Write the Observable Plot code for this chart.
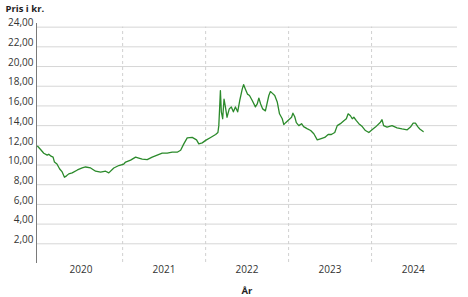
<!DOCTYPE html>
<html>
<head>
<meta charset="utf-8">
<script src="https://cdn.jsdelivr.net/npm/d3@7"></script>
<script src="https://cdn.jsdelivr.net/npm/@observablehq/plot@0.6"></script>
<style>
  html, body { margin: 0; padding: 0; background: #fff; }
  #chart { width: 468px; height: 297px; }
</style>
</head>
<body>
<div id="chart"></div>
<script>
const dates = [
  "2019-12-24","2020-01-05","2020-01-20","2020-02-04","2020-02-11","2020-02-21","2020-03-01","2020-03-07",
  "2020-03-18","2020-03-30","2020-04-10","2020-04-20","2020-04-29","2020-05-09","2020-05-24","2020-06-16",
  "2020-07-07","2020-07-22","2020-08-13","2020-09-04","2020-09-26","2020-10-18","2020-11-01","2020-11-23",
  "2020-12-15","2021-01-06","2021-01-14","2021-02-05","2021-02-27","2021-03-13","2021-03-28","2021-04-19",
  "2021-05-11","2021-06-02","2021-06-24","2021-07-16","2021-08-07","2021-08-29","2021-09-13","2021-09-27",
  "2021-10-12","2021-11-03","2021-11-22","2021-12-02","2021-12-17","2022-01-01","2022-01-23","2022-02-14",
  "2022-02-24","2022-02-28","2022-03-04","2022-03-07","2022-03-11","2022-03-17","2022-03-23","2022-03-29",
  "2022-04-05","2022-04-15","2022-04-24","2022-05-03","2022-05-12","2022-05-22","2022-05-31","2022-06-11",
  "2022-06-17","2022-06-25","2022-07-04","2022-07-13","2022-07-25","2022-08-08","2022-08-16","2022-08-23",
  "2022-08-31","2022-09-09","2022-09-21","2022-10-06","2022-10-13","2022-10-21","2022-11-01","2022-11-12",
  "2022-11-22","2022-12-04","2022-12-11","2022-12-19","2023-01-02","2023-01-14","2023-01-20","2023-01-28",
  "2023-02-04","2023-02-15","2023-02-27","2023-03-08","2023-03-23","2023-04-08","2023-04-22","2023-05-07",
  "2023-05-21","2023-06-09","2023-06-24","2023-07-08","2023-07-23","2023-08-03","2023-08-17","2023-09-01",
  "2023-09-12","2023-09-20","2023-09-30","2023-10-08","2023-10-15","2023-10-26","2023-11-06","2023-11-21",
  "2023-12-05","2023-12-20","2024-01-03","2024-01-18","2024-02-09","2024-02-16","2024-02-23","2024-03-09",
  "2024-03-31","2024-04-22","2024-05-14","2024-06-06","2024-06-20","2024-07-02","2024-07-12","2024-07-22",
  "2024-07-31","2024-08-15"
];
const prices = [
  11.9,11.6,11.2,11.0,11.1,10.9,10.8,10.3,
  10.1,9.6,9.3,8.76,8.9,9.1,9.2,9.5,
  9.7,9.8,9.7,9.37,9.27,9.37,9.2,9.7,
  9.95,10.1,10.3,10.5,10.8,10.7,10.6,10.55,
  10.8,11.0,11.2,11.2,11.3,11.3,11.5,12.15,
  12.76,12.8,12.56,12.15,12.25,12.5,12.8,13.1,
  13.3,14.0,16.0,17.56,15.4,14.7,16.7,15.9,
  14.85,15.7,15.9,15.4,15.9,15.4,16.55,17.7,
  18.17,17.7,17.2,17.06,16.55,15.9,16.2,16.8,
  16.2,15.7,15.5,17.06,17.46,17.3,17.06,16.4,
  15.2,14.7,14.1,14.3,14.6,14.85,15.26,14.9,
  14.3,14.0,14.2,13.9,13.7,13.5,13.17,12.56,
  12.66,12.8,13.1,13.1,13.3,14.0,14.2,14.5,
  14.7,15.2,15.0,14.7,14.85,14.5,14.2,13.9,
  13.5,13.3,13.57,13.85,14.35,14.6,14.0,13.85,
  14.0,13.77,13.66,13.57,13.85,14.25,14.25,13.9,
  13.66,13.4
];
const yTicks = [2,4,6,8,10,12,14,16,18,20,22,24];
const yearStarts = ["2021-01-01","2022-01-01","2023-01-01","2024-01-01"];
const yearLabels = ["2020","2021","2022","2023","2024"];
const xDomain = ["2019-12-19","2025-01-13"];
const yDomain = [0, 24.37];

const data = dates.map((d, i) => ({date: new Date(d + "T00:00:00Z"), price: prices[i]}));
const yearMids = yearLabels.map(y => new Date(y + "-07-02T00:00:00Z"));
const fmt = v => v.toFixed(2).replace(".", ",");

const chart = Plot.plot({
  width: 468,
  height: 297,
  marginLeft: 36,
  marginRight: 11,
  marginTop: 23,
  marginBottom: 34,
  style: {fontFamily: "'Open Sans', sans-serif", fontSize: "10px", color: "#333", background: "#fff"},
  x: {type: "utc", domain: xDomain.map(d => new Date(d + "T00:00:00Z"))},
  y: {domain: yDomain},
  marks: [
    Plot.ruleY(yTicks, {stroke: "#d6d6d6", strokeWidth: 1}),
    Plot.ruleX(yearStarts.map(d => new Date(d + "T00:00:00Z")), {stroke: "#d0d0d0", strokeDasharray: "3,3", y1: 0.1, y2: 24}),
    Plot.ruleX([new Date(xDomain[0] + "T00:00:00Z")], {stroke: "#7a7a7a", strokeWidth: 1}),
    Plot.axisY(yTicks, {tickSize: 0, tickPadding: 3, dy: -4, tickFormat: fmt, label: null, fill: "#333"}),
    Plot.axisX(yearMids, {tickSize: 0, tickPadding: 2, tickFormat: d => String(d.getUTCFullYear()), label: null, fill: "#333"}),
    Plot.line(data, {x: "date", y: "price", stroke: "#2b8a2b", strokeWidth: 1.3}),
    Plot.text(["Pris i kr."], {frameAnchor: "top-left", dx: -31, dy: -18, textAnchor: "start", lineAnchor: "top", fontWeight: "bold", fontSize: 9.5, fill: "#222"}),
    Plot.text(["År"], {frameAnchor: "bottom", dy: 27, lineAnchor: "middle", fontWeight: "bold", fontSize: 9.5, fill: "#222"})
  ]
});
document.getElementById("chart").appendChild(chart);
</script>
</body>
</html>
